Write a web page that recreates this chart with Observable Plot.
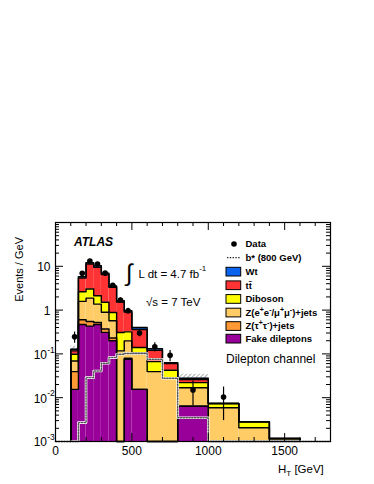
<!DOCTYPE html>
<html><head><meta charset="utf-8">
<script src="https://cdn.jsdelivr.net/npm/d3@7"></script>
<script src="https://cdn.jsdelivr.net/npm/@observablehq/plot@0.6"></script>
<style>body{margin:0;background:#fff} svg{display:block;overflow:visible}</style>
</head><body><div id="chart"></div>
<script>
// ---- data (Events / GeV per H_T bin) ----
const binLo = [100,150,200,250,300,350,400,450,500,600,700,800,1000,1200,1400];
const binHi = [150,200,250,300,350,400,450,500,600,700,800,1000,1200,1400,1600];
const fake    = [0.0155,0.47,0.43,0.47,0.31,0.20,0,0.0755,0.0155,0,0,0.0064,0,0,0];
const ztautau = [0.0239,0.13,0.12,0.05,0.06,0.03,0,0.004,0,0,0,0,0,0,0];
const zeemumu = [0.0297,0.98,1.33,0.85,0.52,0.34,0.117,0.119,0.0915,0.0394,0.0287,0.0105,0.0059,0.00206,0.00107];
const diboson = [0.0292,1.05,1.15,0.76,0.62,0.31,0.19,0.12,0.033,0.0273,0.0136,0.0052,0.0015,0.00076,0.0001];
const ttbar   = [0.0189,2.78,8.27,7.36,4.95,2.42,1.22,0.58,0.221,0.0546,0.0178,0.0037,0,0,0];
const wt      = [0.0107,0.39,0.8,0.87,0.47,0.25,0.11,0.065,0.04,0.011,0.0032,0.0019,0,0,0];
const signal  = [0,0.0027,0.0287,0.0408,0.0611,0.0824,0.0983,0.102,0.102,0.0755,0.0277,0.00348,0,0,0];
const dataVal = [0.245,6.9,13.2,11.3,7.0,3.7,1.7,0.97,0.30,0.145,0.093,0.015,0.0104,null,null];
const dataLo  = [0.175,6.5,12.7,10.8,6.6,3.4,1.5,0.83,0.245,0.11,0.066,0.0065,0.003,null,null];
const dataHi  = [0.315,7.3,13.7,11.8,7.4,4.0,1.9,1.1,0.355,0.18,0.12,0.024,0.0175,null,null];
const uncBins = [0, 11];          // bins where the hatched uncertainty is visible
const uncHi   = [0.15, 0.0342];
const xTicks = [0,500,1000,1500];
const yTicks = [1e-3,1e-2,1e-1,1,10];
const yTickBase = ["10","10","10","1","10"];
const yTickSup  = ["-3","-2","-1","",""];

const names  = ["Fake dileptons","Z(τ+τ-)+jets","Z(ee/μμ)+jets","Diboson","tt","Wt"];
const colors = ["#990099","#ff9933","#ffcc66","#ffff00","#ff3333","#0a64f0"];
const series = [fake, ztautau, zeemumu, diboson, ttbar, wt];

const F = "Liberation Sans, Arial, Helvetica, sans-serif";
const YMIN = 1e-3, YMAX = 1e2, XMAX = 1800;
const cl = v => Math.max(YMIN, v);

// stacked rectangles + step outlines
const rects = [], outlines = [];
const cum = binLo.map(() => 0);
series.forEach((vals, li) => {
  outlines.push({x: binLo[0], y: YMIN, layer: li});
  binLo.forEach((lo, j) => {
    const y1 = cum[j], y2 = cum[j] + vals[j];
    rects.push({x1: lo, x2: binHi[j], y1: cl(y1), y2: cl(y2), fill: colors[li]});
    cum[j] = y2;
    outlines.push({x: lo, y: cl(y2), layer: li}, {x: binHi[j], y: cl(y2), layer: li});
  });
  outlines.push({x: binHi[binHi.length - 1], y: YMIN, layer: li});
});
const hatch = uncBins.map((b, i) => ({x1: binLo[b], x2: binHi[b], y1: cum[b], y2: uncHi[i]}));

const sig = [{x: 0, y: YMIN}];
binLo.forEach((lo, j) => { sig.push({x: lo, y: cl(signal[j])}, {x: binHi[j], y: cl(signal[j])}); });
sig.push({x: binHi[binHi.length - 1], y: YMIN}, {x: XMAX, y: YMIN});

const pts = binLo.map((lo, j) => ({x: (lo + binHi[j]) / 2, y: dataVal[j], lo: dataLo[j], hi: dataHi[j]})).filter(d => d.y != null);

// ticks (inside the frame, ROOT style)
const decPerPx = 5 / 219, gevPerPx = XMAX / 275;
const xMaj = d3.range(0, 1801, 500), xMin = d3.range(0, 1801, 100).filter(v => v % 500);
const yMaj = [1e-3,1e-2,1e-1,1,10,100];
const yMin = [];
for (let e = -3; e < 2; e++) for (let k = 2; k <= 9; k++) yMin.push(k * 10 ** e);
const up = (n) => YMIN * 10 ** (n * decPerPx), dn = (n) => YMAX / 10 ** (n * decPerPx);

const plot = Plot.plot({
  width: 374, height: 484,
  marginLeft: 55, marginRight: 44, marginTop: 222, marginBottom: 43,
  style: {fontFamily: F, background: "white", overflow: "visible"},
  x: {domain: [0, XMAX], axis: null},
  y: {type: "log", domain: [YMIN, YMAX], axis: null},
  color: {type: "identity"},
  marks: [
    Plot.rect(rects, {x1: "x1", x2: "x2", y1: "y1", y2: "y2", fill: "fill"}),
    Plot.rect(hatch, {x1: "x1", x2: "x2", y1: "y1", y2: "y2", fill: "url(#hatch)"}),
    Plot.line(outlines, {x: "x", y: "y", z: "layer", stroke: "black", strokeWidth: 1.4}),
    Plot.line(sig, {x: "x", y: "y", stroke: "white", strokeWidth: 2.6}),
    Plot.line(sig, {x: "x", y: "y", stroke: "#555", strokeWidth: 1.4, strokeDasharray: "1.4,1.4"}),
    Plot.ruleX(pts, {x: "x", y1: "lo", y2: "hi", stroke: "black", strokeWidth: 1.2}),
    Plot.dot(pts, {x: "x", y: "y", r: 2.8, fill: "black"}),
    Plot.frame({stroke: "black", strokeWidth: 1.2}),
    // x ticks
    Plot.ruleX(xMaj, {x: d => d, y1: YMIN, y2: up(8), stroke: "black"}),
    Plot.ruleX(xMin, {x: d => d, y1: YMIN, y2: up(4), stroke: "black"}),
    Plot.ruleX(xMaj, {x: d => d, y1: YMAX, y2: dn(8), stroke: "black"}),
    Plot.ruleX(xMin, {x: d => d, y1: YMAX, y2: dn(4), stroke: "black"}),
    // y ticks
    Plot.ruleY(yMaj, {y: d => d, x1: 0, x2: 8 * gevPerPx, stroke: "black"}),
    Plot.ruleY(yMin, {y: d => d, x1: 0, x2: 4 * gevPerPx, stroke: "black"}),
    Plot.ruleY(yMaj, {y: d => d, x1: XMAX, x2: XMAX - 8 * gevPerPx, stroke: "black"}),
    Plot.ruleY(yMin, {y: d => d, x1: XMAX, x2: XMAX - 4 * gevPerPx, stroke: "black"}),
    // tick labels
    Plot.axisX({ticks: xTicks, tickSize: 0, tickPadding: 5, fontSize: 12, label: null, tickFormat: d => String(d)}),
    Plot.text(yTicks.filter((d, i) => yTickSup[i]), {x: 0, y: d => d, text: d => yTickBase[yTicks.indexOf(d)], textAnchor: "end", dx: -8.5, dy: 1, fontSize: 12}),
    Plot.text(yTicks.filter((d, i) => yTickSup[i]), {x: 0, y: d => d, text: d => yTickSup[yTicks.indexOf(d)], textAnchor: "start", dx: -8.3, dy: -4, fontSize: 8.5}),
    Plot.text(yTicks.filter((d, i) => !yTickSup[i]), {x: 0, y: d => d, text: d => yTickBase[yTicks.indexOf(d)], textAnchor: "end", dx: -5, dy: 1, fontSize: 12})
  ]
});
document.getElementById("chart").appendChild(plot);

// hatch pattern
const svg = d3.select(plot);
const defs = svg.insert("defs", ":first-child");
defs.append("pattern").attr("id", "hatch").attr("patternUnits", "userSpaceOnUse")
  .attr("width", 3).attr("height", 3).attr("patternTransform", "rotate(45)")
  .append("line").attr("x1", 0).attr("y1", 0).attr("x2", 0).attr("y2", 3)
  .attr("stroke", "#333").attr("stroke-width", 0.8);

// annotations and legend
const g = svg.append("g").attr("font-family", F).attr("fill", "black").attr("text-anchor", "start");
function rich(parent, x, y, parts, opts = {}) {
  const t = parent.append("text").attr("x", x).attr("y", y)
    .attr("text-anchor", opts.anchor || "start")
    .attr("font-size", opts.size || 12).attr("font-weight", opts.weight || "normal")
    .attr("font-style", opts.style || "normal");
  if (opts.transform) t.attr("transform", opts.transform);
  parts.forEach(p => {
    if (typeof p === "string") t.append("tspan").text(p);
    else t.append("tspan").attr("font-size", p.size).attr("dy", p.dy).text(p.t);
  });
  return t;
}
rich(g, 74, 246, ["ATLAS"], {size: 12, weight: "bold", style: "italic"});
rich(g, 126, 281, ["∫"], {size: 24});
rich(g, 138.5, 278, ["L dt = 4.7 fb", {t: "-1", size: 8, dy: -7}], {size: 11.5});
rich(g, 146, 306, ["√s = 7 TeV"], {size: 11.5});
rich(g, 226, 362.5, ["Dilepton channel"], {size: 12});
rich(g, 278, 473, ["H", {t: "T", size: 8, dy: 3}, {t: " [GeV]", size: 11.5, dy: -3}], {size: 11.5});
rich(g, 23, 237, ["Events / GeV"], {size: 11, anchor: "end", transform: "rotate(-90 23 237)"});

const LX = 226, TX = 245.5, LS = 9.5;
const rowY = [244, 257.7, 271.6, 285.2, 298.9, 312.5, 326, 338.6];
g.append("circle").attr("cx", 234).attr("cy", rowY[0]).attr("r", 2.8);
g.append("line").attr("x1", 227).attr("x2", 241).attr("y1", rowY[1]).attr("y2", rowY[1])
  .attr("stroke", "#222").attr("stroke-width", 1.3).attr("stroke-dasharray", "1.4,1.4");
const legendOrder = [5, 4, 3, 2, 1, 0];
legendOrder.forEach((li, k) => {
  g.append("rect").attr("x", LX).attr("y", rowY[k + 2] - 4.3).attr("width", 14.7).attr("height", 8.7)
    .attr("fill", colors[li]).attr("stroke", "black").attr("stroke-width", 1);
});
const sup = t => ({t, size: 7, dy: -4});
const base = t => ({t, size: LS, dy: 4});
const legendTexts = [
  ["Data"],
  ["b* (800 GeV)"],
  ["Wt"],
  ["tt̄"],
  ["Diboson"],
  ["Z(e", sup("+"), base("e"), sup("-"), base("/μ"), sup("+"), base("μ"), sup("-"), base(")+jets")],
  ["Z(τ", sup("+"), base("τ"), sup("-"), base(")+jets")],
  ["Fake dileptons"]
];
legendTexts.forEach((parts, k) => rich(g, TX, rowY[k] + 3.4, parts, {size: LS, weight: "bold"}));
</script></body></html>
